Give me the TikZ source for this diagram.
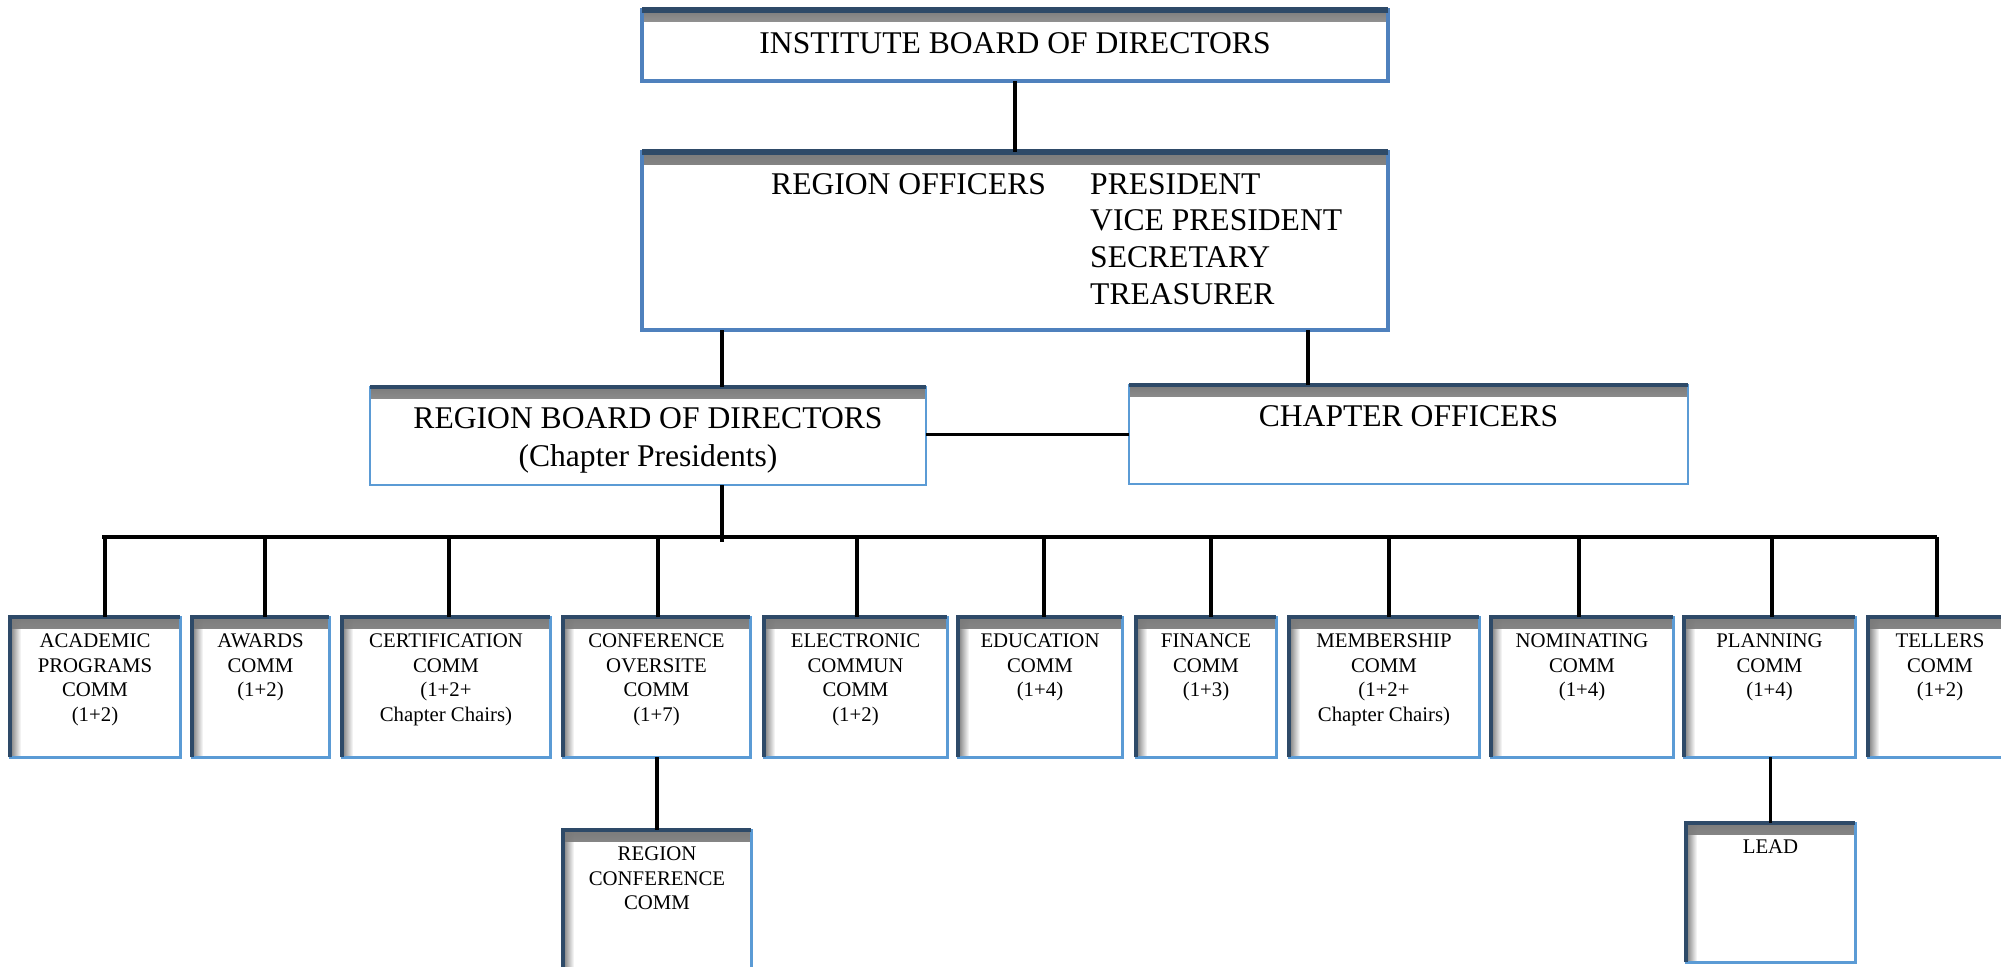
\documentclass[tikz,border=0pt]{standalone}
\usepackage{fontspec}
\setmainfont{Liberation Serif}
\usetikzlibrary{fadings}
\definecolor{lb}{HTML}{5B9BD5}
\definecolor{mb}{HTML}{4F81BD}
\definecolor{dk}{HTML}{2E4A68}
\definecolor{shd}{HTML}{7A7A7A}
\tikzfading[name=faderight, left color=transparent!0, right color=transparent!100]
\tikzset{
  bx/.style={rectangle, fill=white, inner sep=0pt, outer sep=0pt, anchor=north west},
  topfade/.style={path picture={\shade[top color=shd, bottom color=white] ([yshift=1pt]path picture bounding box.north west) rectangle ([yshift=-#1]path picture bounding box.north east);}},
  bothfade/.style={path picture={
      \shade[top color=shd, bottom color=white] ([yshift=1pt]path picture bounding box.north west) rectangle ([yshift=-11pt]path picture bounding box.north east);
      \fill[shd, path fading=faderight] (path picture bounding box.north west) rectangle ([xshift=11pt]path picture bounding box.south west);}},
  bigbox/.style={bx, draw=mb, line width=4.5pt, topfade=12pt},
  midbox/.style={bx, draw=lb, line width=2.5pt, topfade=11pt},
  combox/.style={bx, draw=lb, line width=3pt, bothfade},
  darkedge/.style={draw=dk, line width=3.5pt},
  conn/.style={draw=black, line width=3.8pt},
  bigtxt/.style={font=\fontsize{31.6}{38}\selectfont, inner sep=0pt, align=center, anchor=north},
  comtxt/.style={font=\fontsize{20.8}{24.5}\selectfont, inner sep=0pt, align=center, anchor=north},
}
\begin{document}
\begin{tikzpicture}[x=1pt, y=-1pt]
\useasboundingbox (0,0) rectangle (2001,966);
\clip (0,0) rectangle (2001,966);

% upper boxes
\node[bigbox, minimum width=746pt, minimum height=71pt] (ibd) at (642,10) {};
\node[bigbox, minimum width=746pt, minimum height=178pt] (ro) at (642,152) {};
\node[midbox, minimum width=556pt, minimum height=98pt] (rbd) at (370,387) {};
\node[midbox, minimum width=559pt, minimum height=99pt] (co) at (1129,385) {};
\foreach \n in {ibd,ro} {\draw[darkedge, line width=6pt] (\n.north west) -- (\n.north east);}
\foreach \n in {rbd,co} {\draw[darkedge, line width=3.5pt] (\n.north west) -- (\n.north east);}

\node[bigtxt] (ibdt) at ([yshift=-22pt]ibd.north) {INSTITUTE BOARD OF DIRECTORS};
\node[bigtxt, anchor=north west] (rot) at (771,173) {REGION OFFICERS};
\node[inner sep=0pt, anchor=north west, align=left, font=\fontsize{31.6}{36.7}\selectfont] (rolist) at (1090,173)
  {PRESIDENT\\VICE PRESIDENT\\SECRETARY\\TREASURER};
\node[bigtxt] (rbdt) at ([yshift=-20pt]rbd.north) {REGION BOARD OF DIRECTORS\\(Chapter Presidents)};
\node[bigtxt] (cot) at ([yshift=-20pt]co.north) {CHAPTER OFFICERS};

% committees
\coordinate (busL) at (102,537);
\coordinate (busR) at (1937,537);
\foreach \n/\a/\b/\d/\t in {
  ac/10/180/10/{ACADEMIC\\PROGRAMS\\COMM\\(1+2)},
  aw/192/329/4.5/{AWARDS\\COMM\\(1+2)},
  ce/342/550/3/{CERTIFICATION\\COMM\\(1+2+\\Chapter Chairs)},
  cf/563/750/1.5/{CONFERENCE\\OVERSITE\\COMM\\(1+7)},
  el/764/947/1.5/{ELECTRONIC\\COMMUN\\COMM\\(1+2)},
  ed/958/1122/4/{EDUCATION\\COMM\\(1+4)},
  fi/1136/1276/5/{FINANCE\\COMM\\(1+3)},
  me/1289/1479/5/{MEMBERSHIP\\COMM\\(1+2+\\Chapter Chairs)},
  no/1491/1673/-3/{NOMINATING\\COMM\\(1+4)},
  pl/1684/1855/2.5/{PLANNING\\COMM\\(1+4)},
  te/1868/2012/-3/{TELLERS\\COMM\\(1+2)}} {
  \node[combox, minimum width=\b pt-\a pt, minimum height=140pt] (\n) at (\a,617) {};
  \draw[darkedge] (\n.south west) -- (\n.north west) -- (\n.north east);
  \node[comtxt] (\n t) at ([yshift=-17pt]\n.north) {\t};
  \draw[conn] ([xshift=\d pt]\n.north) -- ([xshift=\d pt]\n.north |- busL);
}
\draw[conn] (busL) -- (busR);

% sub boxes
\node[combox, minimum width=188pt, minimum height=150pt] (rc) at (563,830) {};
\node[combox, minimum width=169pt, minimum height=139pt] (lead) at (1686,823) {};
\foreach \n in {rc,lead} {\draw[darkedge] (\n.south west) -- (\n.north west) -- (\n.north east);}
\node[comtxt] (rct) at ([yshift=-17pt]rc.north) {REGION\\CONFERENCE\\COMM};
\node[comtxt] (leadt) at ([yshift=-17pt]lead.north) {LEAD};

% connectors
\draw[conn] (ibd.south) -- (ro.north);
\draw[conn] ([xshift=74pt]rbd.north) -- ([xshift=74pt]rbd.north |- ro.south);
\draw[conn] ([xshift=-100.5pt]co.north) -- ([xshift=-100.5pt]co.north |- ro.south);
\draw[conn] (co.west -| rbd.east) -- (co.west);
\draw[conn] ([xshift=74pt]rbd.south) -- ([xshift=74pt, yshift=-5pt]rbd.south |- busL);
\draw[conn] (rc.north |- cf.south) -- (rc.north);
\draw[conn] (lead.north |- pl.south) -- (lead.north);
\end{tikzpicture}
\end{document}
